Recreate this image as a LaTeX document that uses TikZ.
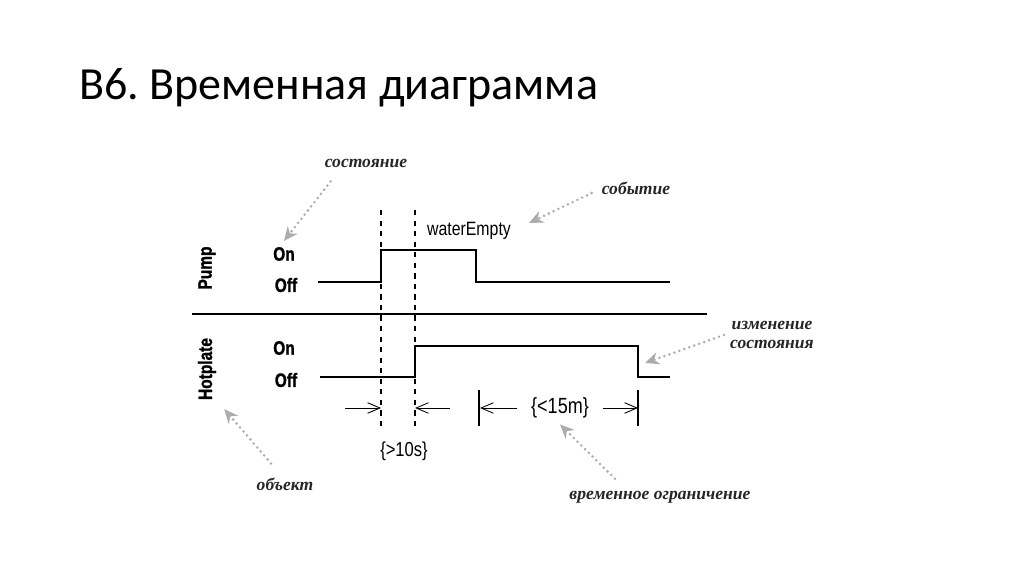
\documentclass[tikz,border=0pt]{standalone}
\usepackage{fontspec}
\setmainfont{Carlito}
\newfontfamily\condfont[FakeStretch=0.82]{Liberation Sans}
\newfontfamily\boldcond[FakeStretch=0.8,FakeBold=1.2]{Liberation Sans Bold}
\newfontfamily\notefont{Liberation Serif}
\usetikzlibrary{arrows.meta}
\frenchspacing

\begin{document}
\begin{tikzpicture}[x=0.02cm, y=-0.02cm,
	title/.style={anchor=base west, font=\fontsize{26.2}{30}\selectfont},
	level/.style={font=\boldcond\fontsize{11}{12}\selectfont},
	obj/.style={level, rotate=90},
	tag/.style={font=\condfont\fontsize{11.5}{13}\selectfont},
	note/.style={font=\notefont\itshape\bfseries\fontsize{10}{11}\selectfont, text=black!85},
	signal/.style={line width=0.8pt},
	marker/.style={dashed, line width=0.6pt},
	pointer/.style={gray!65, line width=1.6pt, dash pattern=on 0pt off 3pt, line cap=round, -{Stealth[length=8pt,width=7pt]}},
	span/.style={line width=0.5pt, -{Straight Barb[length=7pt,width=6pt]}},
	]
	\fill[white] (0,0) rectangle (1024,574);
	\useasboundingbox (0,0) rectangle (1024,574);
	%Nodes
	\node[title]  (title)      at (73,100)  {В6. Временная диаграмма};
	\node[obj]    (pump)       at (207,268) {Pump};
	\node[level]  (pon)        at (284,254) {On};
	\node[level]  (poff)       at (286,285) {Off};
	\node[obj]    (hot)        at (207,369) {Hotplate};
	\node[level]  (hon)        at (284,348) {On};
	\node[level]  (hoff)       at (286,380) {Off};
	\node[tag, font=\condfont\fontsize{11}{13}\selectfont] (evt) at (469,231) {waterEmpty};
	\node[tag]    (gap)        at (404,451) {\{>10s\}};
	\node[tag, font=\condfont\fontsize{12.5}{14}\selectfont] (limit) at (560,408) {\{<15m\}};
	\node[note]   (stateNote)  at (366,163) {состояние};
	\node[note]   (eventNote)  at (636,188) {событие};
	\node[note, align=center] (changeNote) at (772,335) {изменение\\состояния};
	\node[note]   (objNote)    at (285,484) {объект};
	\node[note]   (limitNote)  at (660,497) {временное ограничение};
	\coordinate   (fallTip)    at (645,363);

	%Signals
	\draw[signal] (318,282) -- (381,282) -- (381,250) -- (476,250) -- (476,282) -- (670,282);
	\draw[signal] (320,377) -- (415,377) -- (415,346) -- (638,346) -- (638,377) -- (670,377);
	\draw[line width=1.6pt] (192,314) -- (707,314);
	\draw[marker] (381,210) -- (381,428);
	\draw[marker] (415,210) -- (415,428);
	\draw[signal] (479,390) -- (479,426);
	\draw[signal] (638,390) -- (638,426);

	%Spans
	\draw[span] (345,408) -- (381,408);
	\draw[span] (450,408) -- (415,408);
	\draw[span] (limit.west) ++(-8,0) -- (480,408);
	\draw[span] (limit.east) ++(8,0) -- (638,408);

	%Pointers
	\draw[pointer] ([shift={(12,8)}]stateNote.south west) -- (pon.north);
	\draw[pointer] ([shift={(-4,5)}]eventNote.west) -- ([shift={(12,-8)}]evt.east);
	\draw[pointer] (changeNote.west) -- (fallTip);
	\draw[pointer] ([shift={(-14,-8)}]objNote.north) -- ([shift={(2,3)}]hot.south west);
	\draw[pointer] ([shift={(-45,-6)}]limitNote.north) -- (limit.south);
\end{tikzpicture}
\end{document}
